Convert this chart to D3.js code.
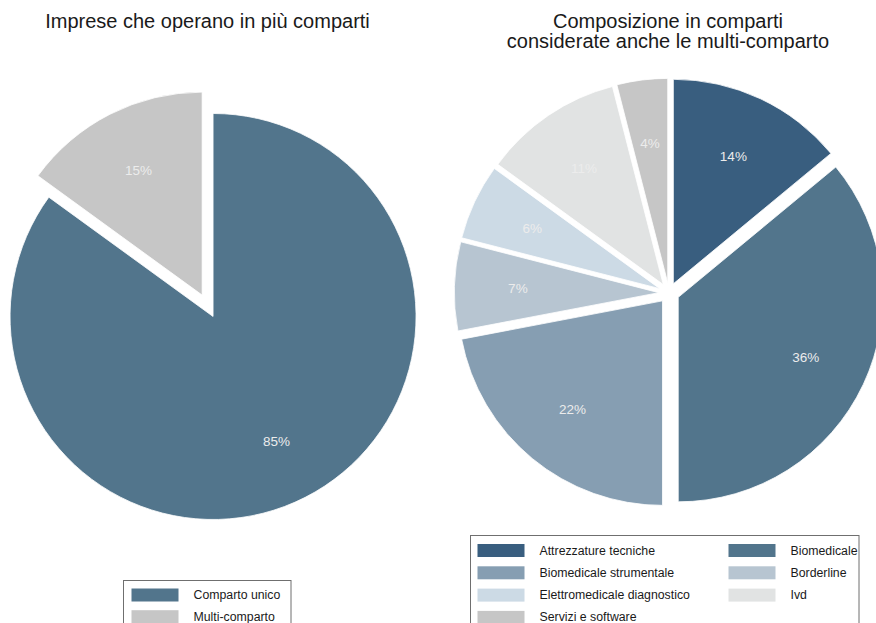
<!DOCTYPE html>
<html>
<head>
<meta charset="utf-8">
<script src="https://cdn.jsdelivr.net/npm/d3@7"></script>
<style>
  html, body { margin: 0; padding: 0; background: #ffffff; }
  svg { display: block; font-family: "Liberation Sans", Arial, Helvetica, sans-serif; }
</style>
</head>
<body>
<svg id="chart" width="876" height="623"></svg>
<script>
// Left pie: firms operating in one vs. several segments
const leftCategories = ["Comparto unico", "Multi-comparto"];
const leftValues = [85, 15];
const leftColors = ["#52758c", "#c6c6c6"];

// Right pie: segment composition including multi-segment firms
const rightCategories = [
  "Attrezzature tecniche", "Biomedicale", "Biomedicale strumentale",
  "Borderline", "Elettromedicale diagnostico", "Ivd", "Servizi e software"
];
const rightValues = [14, 36, 22, 7, 6, 11, 4];
const rightColors = ["#395e7f", "#52758c", "#869eb2", "#b7c5d1", "#ccdae5", "#e1e3e3", "#c6c6c6"];

const titles = {
  left: ["Imprese che operano in più comparti"],
  right: ["Composizione in comparti", "considerate anche le multi-comparto"]
};

const svg = d3.select("#chart");

function drawPie(cfg) {
  const g = svg.append("g").attr("transform", `translate(${cfg.cx},${cfg.cy})`);
  const pie = d3.pie().sort(null).value(d => d.value);
  const arcs = pie(cfg.values.map((v, i) => ({ value: v, name: cfg.categories[i], color: cfg.colors[i] })));
  const arc = d3.arc().innerRadius(0).outerRadius(cfg.r);
  const labelArc = d3.arc().innerRadius(cfg.labelR).outerRadius(cfg.labelR);

  const slice = g.selectAll("g.slice").data(arcs).join("g")
    .attr("class", "slice")
    .attr("transform", d => {
      const a = (d.startAngle + d.endAngle) / 2;
      return `translate(${Math.sin(a) * cfg.explode},${-Math.cos(a) * cfg.explode})`;
    });

  slice.append("path")
    .attr("d", arc)
    .attr("fill", d => d.data.color)
    .attr("stroke", "#ffffff")
    .attr("stroke-width", 0.8);

  slice.append("text")
    .attr("transform", d => `translate(${labelArc.centroid(d)})`)
    .attr("text-anchor", "middle")
    .attr("dy", "0.36em")
    .attr("font-size", 13.5)
    .attr("fill", "#ececec")
    .text(d => `${d.data.value}%`);
}

function drawTitle(lines, x) {
  svg.append("g").selectAll("text").data(lines).join("text")
    .attr("x", x)
    .attr("y", (d, i) => 28 + i * 20)
    .attr("text-anchor", "middle")
    .attr("font-size", 20)
    .attr("fill", "#1a1a1a")
    .text(d => d);
}

function drawLegend(cfg) {
  const g = svg.append("g");
  g.append("rect")
    .attr("x", cfg.x).attr("y", cfg.y)
    .attr("width", cfg.w).attr("height", 120)
    .attr("fill", "#ffffff")
    .attr("stroke", "#6f6f6f")
    .attr("stroke-width", 1);
  const items = cfg.categories.map((c, i) => ({ name: c, color: cfg.colors[i], i }));
  const item = g.selectAll("g.item").data(items).join("g")
    .attr("class", "item")
    .attr("transform", d => {
      const col = d.i % cfg.cols, row = Math.floor(d.i / cfg.cols);
      return `translate(${cfg.x + cfg.padX + col * cfg.colW},${cfg.y + cfg.padY + row * cfg.rowH})`;
    });
  item.append("rect")
    .attr("width", 47).attr("height", 13)
    .attr("fill", d => d.color);
  item.append("text")
    .attr("x", 62)
    .attr("y", 10.5)
    .attr("font-size", 12.3)
    .attr("fill", "#1a1a1a")
    .text(d => d.name);
}

drawPie({ cx: 207.6, cy: 305.8, r: 203, explode: 12, labelR: 140,
          values: leftValues, categories: leftCategories, colors: leftColors });
drawPie({ cx: 669, cy: 293, r: 204.5, explode: 10.2, labelR: 141,
          values: rightValues, categories: rightCategories, colors: rightColors });

drawTitle(titles.left, 207.5);
drawTitle(titles.right, 668);

drawLegend({ x: 123.5, y: 580.5, w: 167.5, padX: 8, padY: 8, colW: 0, rowH: 21.7, cols: 1,
             categories: leftCategories, colors: leftColors });
drawLegend({ x: 470.5, y: 535.5, w: 388.5, padX: 7, padY: 8.5, colW: 251, rowH: 22.3, cols: 2,
             categories: rightCategories, colors: rightColors });
</script>
</body>
</html>
